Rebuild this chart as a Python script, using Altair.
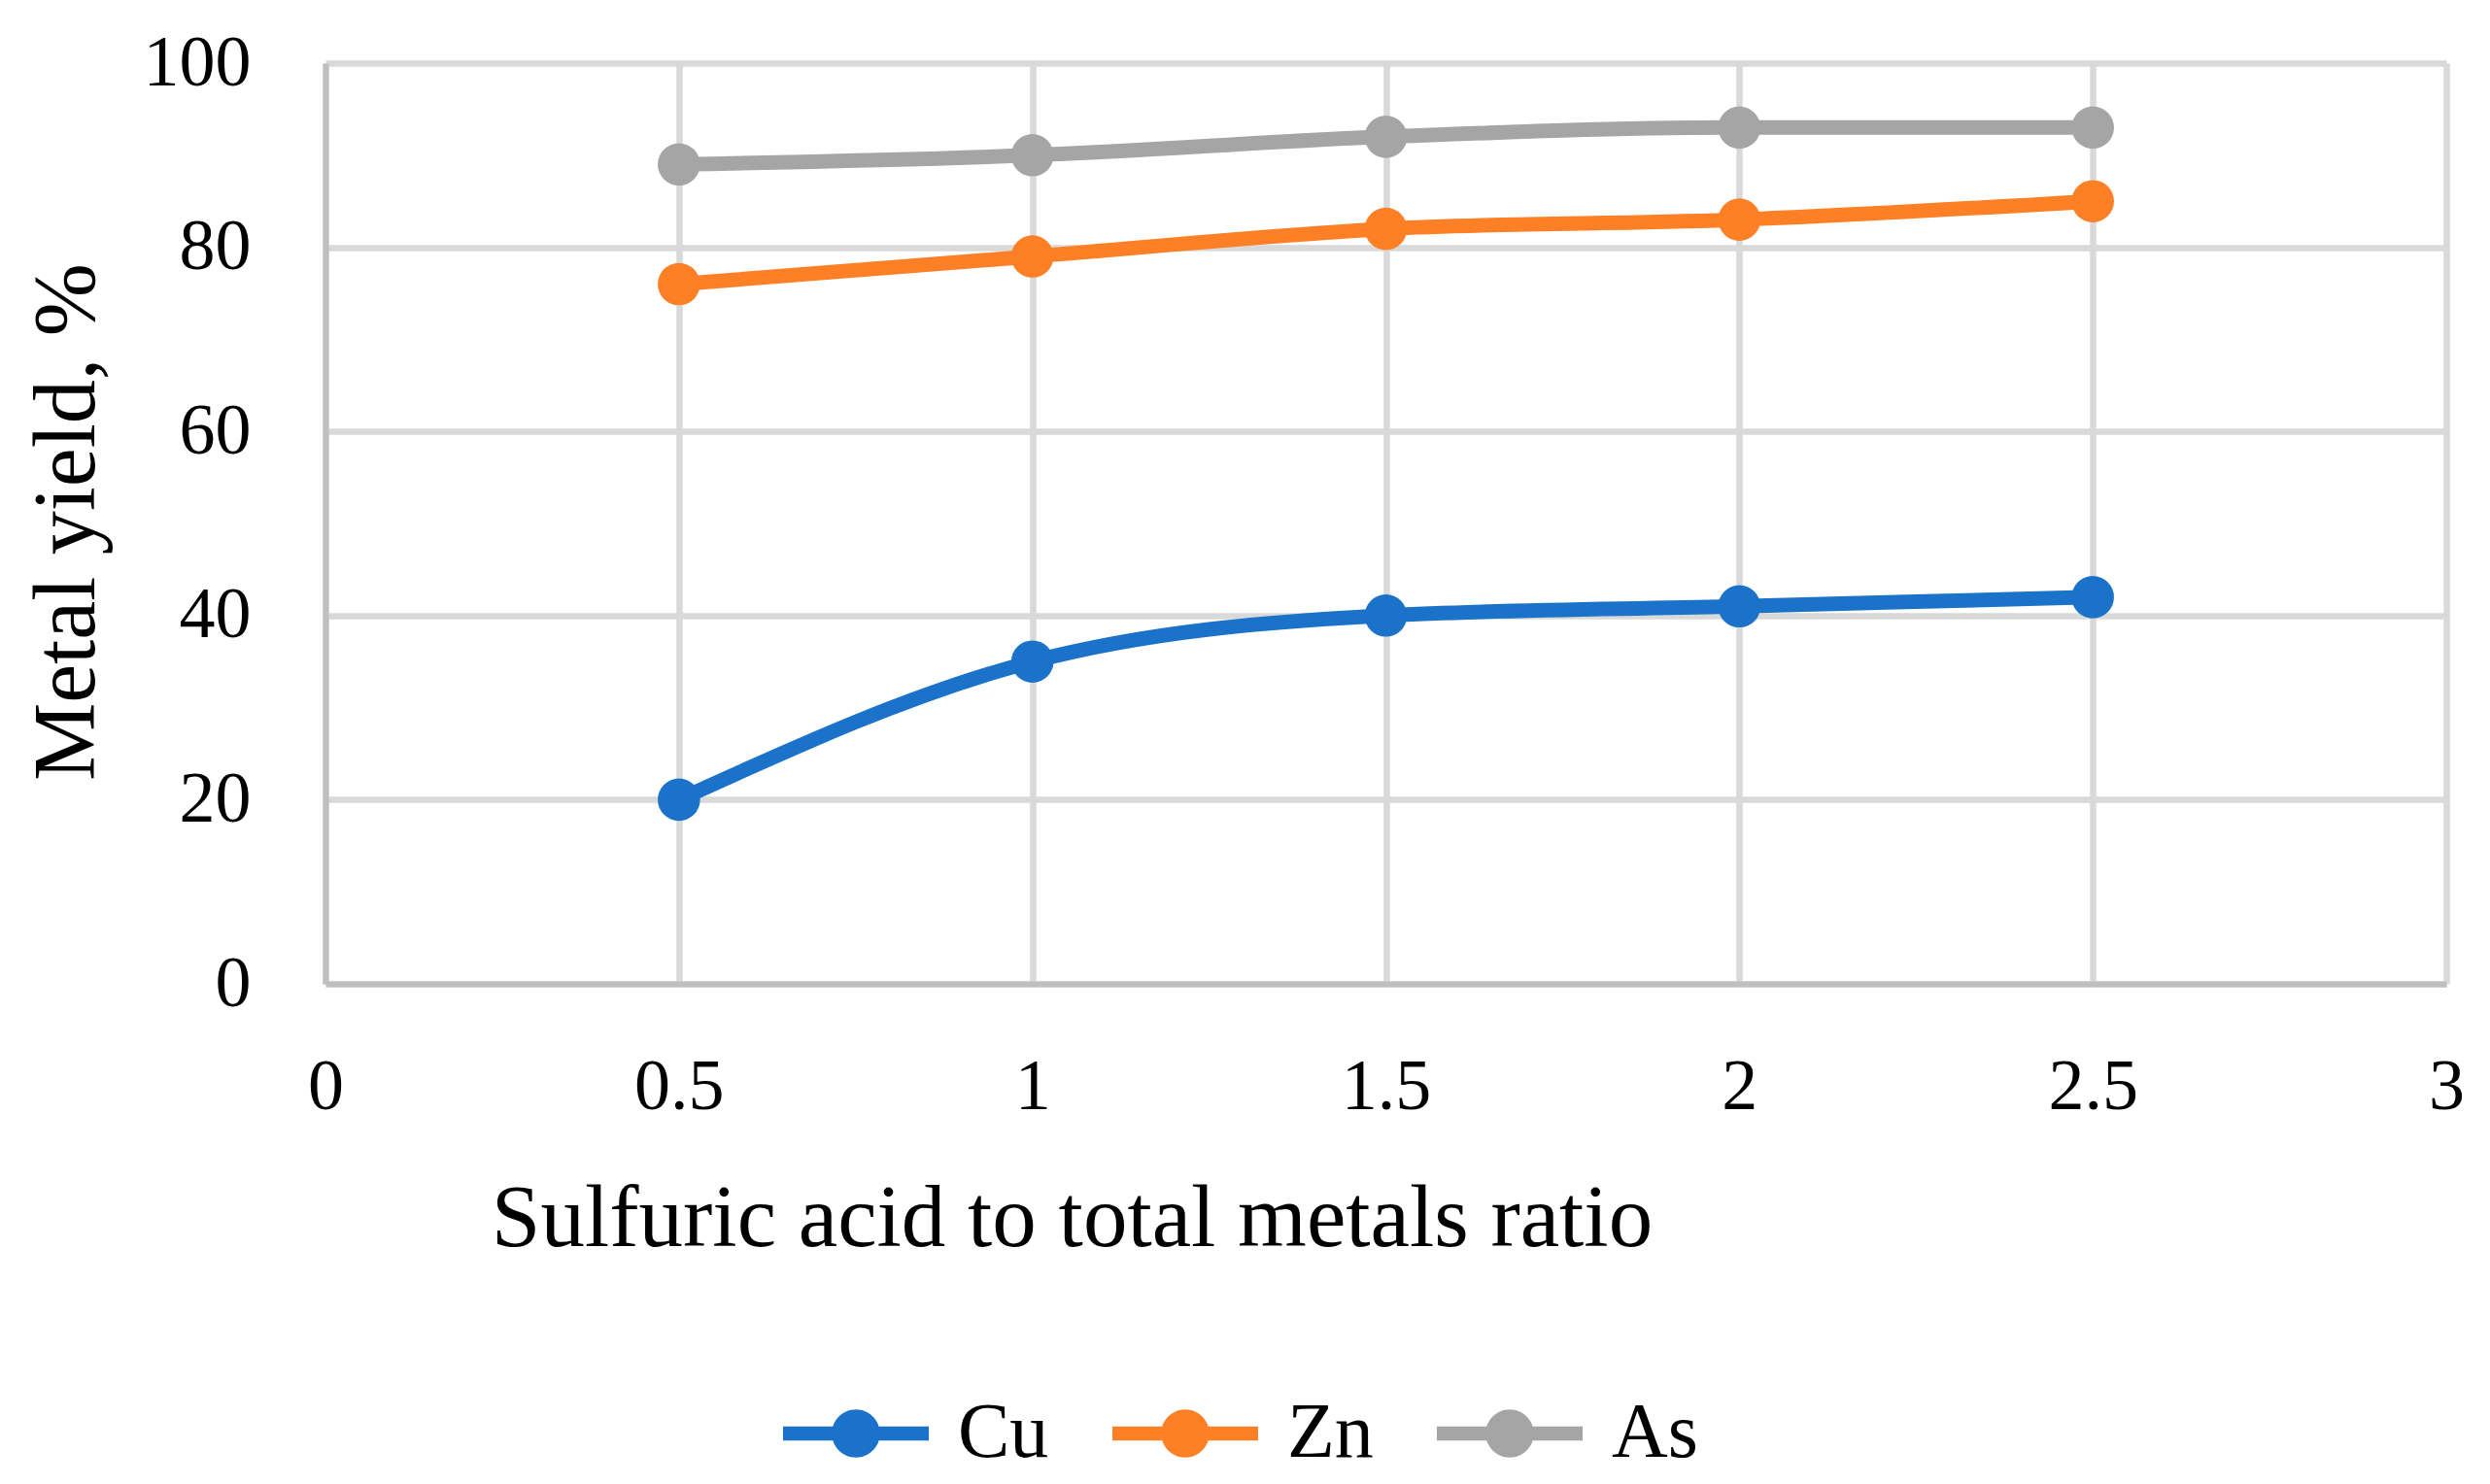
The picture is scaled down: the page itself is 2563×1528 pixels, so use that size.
import altair as alt
import pandas as pd

FONT = "Liberation Serif"

ratio = [0.5, 1, 1.5, 2, 2.5]
cu_yield = [20, 35, 40, 41, 42]
zn_yield = [76, 79, 82, 83, 85]
as_yield = [89, 90, 92, 93, 93]
metals = ["Cu", "Zn", "As"]
colors = ["#1A73C8", "#FD7F26", "#A5A5A5"]
x_ticks = [0, 0.5, 1, 1.5, 2, 2.5, 3]
y_ticks = [0, 20, 40, 60, 80, 100]

rows = []
for m, ys in zip(metals, [cu_yield, zn_yield, as_yield]):
    for xv, yv in zip(ratio, ys):
        rows.append({"metal": m, "ratio": xv, "yield": yv})
df = pd.DataFrame(rows)

x_enc = alt.X(
    "ratio:Q",
    scale=alt.Scale(domain=[0, 3], nice=False, zero=False),
    axis=alt.Axis(
        values=x_ticks,
        labelExpr="toString(datum.value)",
        labelFlush=False,
        title="Sulfuric acid to total metals ratio",
        titleX=768,
        titleY=269,
        titleAlign="center",
        titleBaseline="alphabetic",
        titleFontSize=91,
        labelPadding=70,
        labelFontSize=74,
    ),
)
y_enc = alt.Y(
    "yield:Q",
    scale=alt.Scale(domain=[0, 100], nice=False),
    axis=alt.Axis(
        values=y_ticks,
        title="Metal yield, %",
        titleX=-266,
        titleY=472,
        titleAngle=-90,
        titleAlign="center",
        titleBaseline="middle",
        titleFontSize=90,
        labelPadding=77,
        labelFontSize=74,
    ),
)

# legend symbol: a bar with a dot in the middle (unit coordinates, filled)
sym_path = ("M-1,-0.097L1,-0.097L1,0.097L-1,0.097Z"
            "M0.33,0A0.33,0.33,0,1,1,-0.33,0A0.33,0.33,0,1,1,0.33,0Z")
legend = alt.Legend(
    orient="none",
    legendX=471,
    legendY=1336,
    direction="horizontal",
    title=None,
    symbolType=sym_path,
    symbolSize=22500,
    symbolStrokeWidth=0,
    symbolOpacity=1,
    labelFont=FONT,
    labelFontSize=80,
    labelColor="black",
    labelOffset=30,
    columnPadding=65,
    padding=0,
)

line_layers = [
    alt.Chart(df).transform_filter(alt.datum.metal == m).mark_line(
        color=c, strokeWidth=15, interpolate="monotone",
        strokeCap="round", strokeJoin="round"
    ).encode(x=x_enc, y=y_enc)
    for m, c in zip(metals, colors)
]

points = alt.Chart(df).mark_circle(size=1900, opacity=1).encode(
    x=x_enc,
    y=y_enc,
    fill=alt.Fill("metal:N", scale=alt.Scale(domain=metals, range=colors), legend=legend),
)

chart = alt.layer(*line_layers, points).properties(
    width=2183,
    height=948,
    autosize=alt.AutoSizeParams(type="none"),
    padding={"left": 327, "top": 57, "right": 30, "bottom": 505},
).configure_view(
    stroke="transparent"
).configure_axis(
    grid=True,
    gridColor="#D9D9D9",
    gridWidth=6.5,
    domainColor="#BFBFBF",
    domainWidth=6,
    ticks=False,
    labelFont=FONT,
    labelColor="black",
    titleFont=FONT,
    titleColor="black",
    titleFontWeight="normal",
)

chart.save("out.html", embed_options={"renderer": "svg", "actions": False})
